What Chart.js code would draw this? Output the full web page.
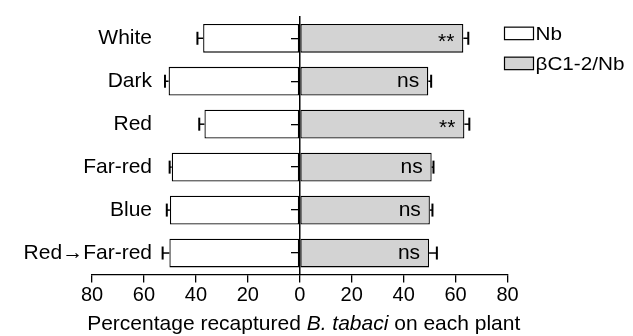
<!DOCTYPE html>
<html>
<head>
<meta charset="utf-8">
<script src="https://cdn.jsdelivr.net/npm/chart.js@4"></script>
<style>
  html, body { margin: 0; padding: 0; background: #fff; }
  #wrap { width: 633px; height: 336px; position: relative; }
</style>
</head>
<body>
<div id="wrap"><canvas id="c"></canvas></div>
<script>
// ---- data ----
const categories = ['White', 'Dark', 'Red', 'Far-red', 'Blue', 'Red\u2192Far-red'];
const seriesNames = ['Nb', '\u03B2C1-2/Nb'];
const nbValues = [37.2, 50.5, 36.7, 49.3, 50.0, 50.2];
const nbErrors = [2.2, 1.4, 2.0, 0.8, 1.2, 2.6];
const bcValues = [63.0, 49.5, 63.4, 50.8, 50.1, 49.8];
const bcErrors = [1.9, 1.1, 1.9, 0.7, 1.0, 3.0];
const significance = ['**', 'ns', '**', 'ns', 'ns', 'ns'];
const xTickValues = [-80, -60, -40, -20, 0, 20, 40, 60, 80];
const titleParts = [
  { text: 'Percentage recaptured ', italic: false },
  { text: 'B. tabaci', italic: true },
  { text: ' on each plant', italic: false }
];

const FONT = "'Liberation Sans', Arial, sans-serif";
const colors = ['#ffffff', '#d3d3d3'];

const errorBarPlugin = {
  id: 'errorBars',
  afterDatasetsDraw(chart) {
    const ctx = chart.ctx, xs = chart.scales.x;
    ctx.save();
    ctx.strokeStyle = '#000';
    [[nbValues, nbErrors, -1], [bcValues, bcErrors, 1]].forEach(([vals, errs, sign], di) => {
      const meta = chart.getDatasetMeta(di);
      meta.data.forEach((bar, i) => {
        const x0 = xs.getPixelForValue(sign * vals[i]);
        const x1 = xs.getPixelForValue(sign * (vals[i] + errs[i]));
        const y = bar.y;
        ctx.lineWidth = 1.5;
        ctx.beginPath(); ctx.moveTo(x0, y); ctx.lineTo(x1, y); ctx.stroke();
        ctx.lineWidth = 2;
        ctx.beginPath(); ctx.moveTo(x1, y - 6.5); ctx.lineTo(x1, y + 6.5); ctx.stroke();
      });
    });
    // significance labels
    ctx.fillStyle = '#000';
    ctx.textAlign = 'right';
    ctx.textBaseline = 'alphabetic';
    const meta = chart.getDatasetMeta(1);
    meta.data.forEach((bar, i) => {
      const xEnd = xs.getPixelForValue(bcValues[i]) - 9;
      const s = significance[i];
      ctx.font = '21px ' + FONT;
      if (s === '**') {
        ctx.fillText(s, xEnd, bar.y + 10);
      } else {
        ctx.fillText(s, xEnd, bar.y + 5.5);
      }
    });
    ctx.restore();
  }
};

const titleLegendPlugin = {
  id: 'titleLegend',
  afterDraw(chart) {
    const ctx = chart.ctx, area = chart.chartArea;
    ctx.save();
    ctx.fillStyle = '#000';
    ctx.textBaseline = 'alphabetic';
    // axis title with italic species name
    let total = 0;
    const widths = titleParts.map(p => {
      ctx.font = (p.italic ? 'italic ' : '') + '21px ' + FONT;
      const w = ctx.measureText(p.text).width;
      total += w;
      return w;
    });
    let x = (area.left + area.right) / 2 + 4 - total / 2;
    const yBase = 330;
    ctx.textAlign = 'left';
    titleParts.forEach((p, i) => {
      ctx.font = (p.italic ? 'italic ' : '') + '21px ' + FONT;
      ctx.fillText(p.text, x, yBase);
      x += widths[i];
    });
    // legend
    const lx = 504.5, boxW = 29, boxH = 12.5;
    const rows = [33.4, 63.4];
    seriesNames.forEach((name, i) => {
      const cy = rows[i];
      ctx.fillStyle = colors[i];
      ctx.fillRect(lx, cy - boxH / 2, boxW, boxH);
      ctx.strokeStyle = '#000';
      ctx.lineWidth = 1.2;
      ctx.strokeRect(lx, cy - boxH / 2, boxW, boxH);
      ctx.fillStyle = '#000';
      ctx.save();
      ctx.translate(lx + boxW + 2, cy + 6.3);
      ctx.scale(1.15, 1);
      ctx.font = '18px ' + FONT;
      ctx.textAlign = 'left';
      ctx.fillText(name, 0, 0);
      ctx.restore();
    });
    ctx.restore();
  }
};

new Chart(document.getElementById('c'), {
  type: 'bar',
  data: {
    labels: categories,
    datasets: [
      {
        label: seriesNames[0],
        data: nbValues.map(v => -v),
        backgroundColor: colors[0],
        borderColor: '#000',
        borderWidth: 1.3,
        borderSkipped: false,
        barPercentage: 0.67,
        categoryPercentage: 1
      },
      {
        label: seriesNames[1],
        data: bcValues,
        backgroundColor: colors[1],
        borderColor: '#000',
        borderWidth: 1.3,
        borderSkipped: false,
        barPercentage: 0.67,
        categoryPercentage: 1
      }
    ]
  },
  options: {
    indexAxis: 'y',
    responsive: true,
    maintainAspectRatio: false,
    animation: false,
    devicePixelRatio: 1,
    layout: { padding: { left: 92, right: 125.5, top: 16.8, bottom: 0 } },
    plugins: { legend: { display: false }, tooltip: { enabled: false } },
    scales: {
      x: {
        type: 'linear',
        stacked: true,
        min: -80,
        max: 80,
        afterBuildTicks(scale) { scale.ticks = xTickValues.map(v => ({ value: v })); },
        afterFit(scale) { scale.height = 61.5; },
        ticks: {
          color: '#000',
          font: { family: FONT, size: 20 },
          padding: 1,
          maxRotation: 0,
          callback: v => String(Math.abs(v))
        },
        grid: { display: true, drawOnChartArea: false, drawTicks: true, tickLength: 8, color: '#000', lineWidth: 1.3 },
        border: { display: true, color: '#000', width: 1.3 }
      },
      y: {
        type: 'category',
        stacked: true,
        position: { x: 0 },
        ticks: { display: false },
        grid: { display: true, z: 1, offset: false, drawOnChartArea: false, drawTicks: true, tickLength: 8, color: '#000', lineWidth: 1.3 },
        border: { display: true, z: 1, color: '#000', width: 1.5 }
      },
      y2: {
        type: 'category',
        axis: 'y',
        labels: categories,
        offset: true,
        position: { x: -56.9 },
        ticks: { color: '#000', font: { family: FONT, size: 21 }, padding: 0 },
        grid: { display: false, drawTicks: false, tickLength: 0 },
        border: { display: false }
      }
    }
  },
  plugins: [errorBarPlugin, titleLegendPlugin]
});
</script>
</body>
</html>
